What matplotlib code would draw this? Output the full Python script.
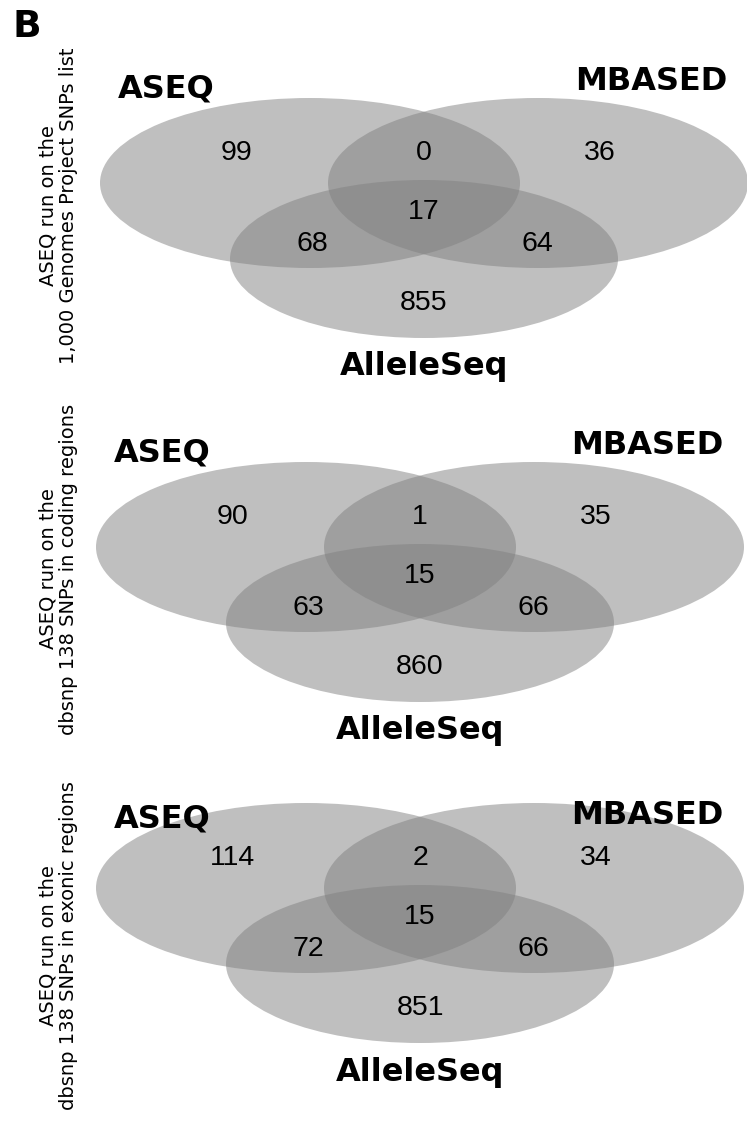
import matplotlib
matplotlib.use("Agg")
import matplotlib.pyplot as plt
from matplotlib.patches import Ellipse

# ---- data ----
set_names = ["ASEQ", "MBASED", "AlleleSeq"]
panel_labels = [
    "ASEQ run on the\n1,000 Genomes Project SNPs list",
    "ASEQ run on the\ndbsnp 138 SNPs in coding regions",
    "ASEQ run on the\ndbsnp 138 SNPs in exonic regions",
]
# region order: ASEQ only, ASEQ&MBASED, MBASED only, all three, ASEQ&AlleleSeq, MBASED&AlleleSeq, AlleleSeq only
region_names = ["A", "AM", "M", "AMS", "AS", "MS", "S"]
counts_panel1 = [99, 0, 36, 17, 68, 64, 855]
counts_panel2 = [90, 1, 35, 15, 63, 66, 860]
counts_panel3 = [114, 2, 34, 15, 72, 66, 851]
panel_counts = [counts_panel1, counts_panel2, counts_panel3]

# ---- layout (pixel coordinates) ----
W, H = 747, 1123
fig = plt.figure(figsize=(W / 100, H / 100), dpi=100)
ax = fig.add_axes([0, 0, 1, 1])
ax.set_xlim(0, W)
ax.set_ylim(H, 0)
ax.axis("off")

panel_offsets = [(0, 0), (-4, 364), (-4, 705)]
side_label_y = [206, 569, 946]
set_label_dy = [(0, 0), (0, 0), (25, 29)]

ellipses = [  # cx, cy, w, h
    (310, 183, 420, 170),
    (538, 183, 420, 170),
    (424, 259, 388, 158),
]
region_pos = {
    "A": (237, 153), "AM": (424, 153), "M": (600, 153),
    "AMS": (424, 212), "AS": (312, 244), "MS": (537, 244), "S": (424, 303),
}
set_label_pos = [(166, 89), (651, 81), (424, 367)]

num_font = dict(family="Liberation Sans", fontsize=20.5, color="black")
lab_font = dict(family="DejaVu Sans", fontsize=23, fontweight="bold", color="black")

for p, (dx, dy) in enumerate(panel_offsets):
    for (cx, cy, w, h) in ellipses:
        ax.add_patch(Ellipse((cx + dx, cy + dy), w, h, facecolor="#808080",
                             edgecolor="none", alpha=0.5))
    for name, val in zip(region_names, panel_counts[p]):
        x, y = region_pos[name]
        ax.text(x + dx, y + dy, str(val), ha="center", va="center", **num_font)
    for i, (name, (x, y)) in enumerate(zip(set_names, set_label_pos)):
        extra = 0
        if i < 2:
            extra = set_label_dy[p][i]
        ax.text(x + dx, y + dy + extra, name, ha="center", va="center", **lab_font)
    ax.text(58, side_label_y[p], panel_labels[p], rotation=90, ha="center",
            va="center", family="DejaVu Sans", fontsize=14, linespacing=1.1,
            multialignment="center")

ax.text(27, 27, "B", ha="center", va="center", family="DejaVu Sans",
        fontsize=27, fontweight="bold")

fig.savefig("out.png", dpi=100)
